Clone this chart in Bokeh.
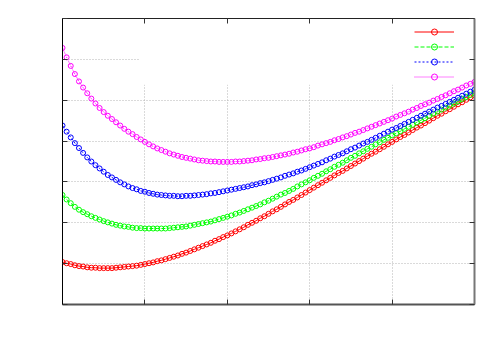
from bokeh.plotting import figure
from bokeh.models import (Range1d, LinearAxis, FixedTicker, CustomJSTickFormatter,
                          Legend, LegendItem, BoxAnnotation, Grid, ColumnDataSource)
from bokeh.core.properties import value
from bokeh.embed import file_html
from bokeh.resources import INLINE

x_values = [0.0, 0.05, 0.1, 0.15, 0.2, 0.25, 0.3, 0.35, 0.4, 0.45,
            0.5, 0.55, 0.6, 0.65, 0.7, 0.75, 0.8, 0.85, 0.9, 0.95,
            1.0, 1.05, 1.1, 1.15, 1.2, 1.25, 1.3, 1.35, 1.4, 1.45,
            1.5, 1.55, 1.6, 1.65, 1.7, 1.75, 1.8, 1.85, 1.9, 1.95,
            2.0, 2.05, 2.1, 2.15, 2.2, 2.25, 2.3, 2.35, 2.4, 2.45,
            2.5, 2.55, 2.6, 2.65, 2.7, 2.75, 2.8, 2.85, 2.9, 2.95,
            3.0, 3.05, 3.1, 3.15, 3.2, 3.25, 3.3, 3.35, 3.4, 3.45,
            3.5, 3.55, 3.6, 3.65, 3.7, 3.75, 3.8, 3.85, 3.9, 3.95,
            4.0, 4.05, 4.1, 4.15, 4.2, 4.25, 4.3, 4.35, 4.4, 4.45,
            4.5, 4.55, 4.6, 4.65, 4.7, 4.75, 4.8, 4.85, 4.9, 4.95, 5.0]

red_values = [1.04, 1.01, 0.99, 0.96, 0.94, 0.93, 0.91, 0.90, 0.90, 0.89,
              0.89, 0.89, 0.89, 0.90, 0.91, 0.92, 0.93, 0.94, 0.95, 0.97,
              0.99, 1.01, 1.03, 1.06, 1.08, 1.11, 1.14, 1.17, 1.20, 1.24,
              1.27, 1.31, 1.35, 1.39, 1.43, 1.47, 1.51, 1.56, 1.60, 1.65,
              1.69, 1.74, 1.79, 1.84, 1.89, 1.95, 2.00, 2.05, 2.11, 2.16,
              2.22, 2.28, 2.33, 2.39, 2.45, 2.51, 2.56, 2.62, 2.68, 2.74,
              2.80, 2.86, 2.92, 2.98, 3.04, 3.10, 3.16, 3.22, 3.27, 3.33,
              3.39, 3.45, 3.51, 3.57, 3.63, 3.69, 3.74, 3.80, 3.86, 3.92,
              3.98, 4.04, 4.10, 4.15, 4.21, 4.27, 4.33, 4.38, 4.44, 4.50,
              4.56, 4.62, 4.67, 4.73, 4.78, 4.84, 4.90, 4.95, 5.01, 5.07, 5.12]

green_values = [2.68, 2.57, 2.48, 2.39, 2.32, 2.26, 2.21, 2.16, 2.12, 2.08,
                2.04, 2.01, 1.98, 1.95, 1.93, 1.91, 1.90, 1.88, 1.87, 1.87,
                1.86, 1.86, 1.86, 1.86, 1.86, 1.86, 1.87, 1.88, 1.89, 1.90,
                1.91, 1.93, 1.95, 1.97, 1.99, 2.01, 2.03, 2.06, 2.09, 2.12,
                2.15, 2.18, 2.22, 2.25, 2.29, 2.33, 2.37, 2.41, 2.45, 2.50,
                2.54, 2.59, 2.64, 2.69, 2.73, 2.78, 2.83, 2.89, 2.94, 2.99,
                3.04, 3.10, 3.15, 3.20, 3.26, 3.31, 3.37, 3.42, 3.47, 3.53,
                3.59, 3.64, 3.70, 3.75, 3.81, 3.86, 3.92, 3.97, 4.03, 4.08,
                4.14, 4.19, 4.24, 4.30, 4.35, 4.40, 4.46, 4.51, 4.56, 4.62,
                4.67, 4.72, 4.77, 4.82, 4.87, 4.92, 4.97, 5.03, 5.08, 5.13, 5.18]

blue_values = [4.38, 4.23, 4.09, 3.95, 3.83, 3.71, 3.60, 3.50, 3.41, 3.33,
               3.25, 3.17, 3.11, 3.05, 2.99, 2.94, 2.89, 2.85, 2.82, 2.78,
               2.76, 2.73, 2.71, 2.69, 2.68, 2.67, 2.66, 2.66, 2.65, 2.65,
               2.66, 2.66, 2.67, 2.68, 2.69, 2.70, 2.72, 2.73, 2.75, 2.77,
               2.79, 2.81, 2.83, 2.85, 2.87, 2.89, 2.92, 2.94, 2.97, 2.99,
               3.02, 3.05, 3.08, 3.11, 3.15, 3.18, 3.21, 3.25, 3.28, 3.32,
               3.36, 3.40, 3.44, 3.48, 3.53, 3.57, 3.62, 3.66, 3.70, 3.75,
               3.80, 3.84, 3.89, 3.94, 3.98, 4.03, 4.08, 4.13, 4.18, 4.23,
               4.28, 4.32, 4.37, 4.42, 4.47, 4.52, 4.57, 4.62, 4.67, 4.72,
               4.77, 4.82, 4.86, 4.91, 4.96, 5.01, 5.06, 5.11, 5.16, 5.21, 5.26]

magenta_values = [6.28, 6.05, 5.84, 5.64, 5.46, 5.31, 5.17, 5.04, 4.92, 4.81,
                  4.71, 4.62, 4.54, 4.46, 4.38, 4.30, 4.23, 4.17, 4.10, 4.04,
                  3.98, 3.92, 3.87, 3.82, 3.78, 3.74, 3.70, 3.67, 3.64, 3.61,
                  3.59, 3.57, 3.55, 3.53, 3.52, 3.51, 3.50, 3.50, 3.49, 3.49,
                  3.49, 3.49, 3.50, 3.50, 3.51, 3.52, 3.53, 3.55, 3.56, 3.58,
                  3.59, 3.61, 3.63, 3.65, 3.67, 3.69, 3.72, 3.74, 3.77, 3.80,
                  3.82, 3.85, 3.89, 3.92, 3.95, 3.98, 4.02, 4.05, 4.09, 4.12,
                  4.16, 4.20, 4.23, 4.27, 4.31, 4.35, 4.39, 4.43, 4.47, 4.51,
                  4.55, 4.60, 4.64, 4.68, 4.72, 4.77, 4.81, 4.86, 4.90, 4.94,
                  4.99, 5.03, 5.08, 5.12, 5.17, 5.22, 5.26, 5.31, 5.36, 5.40, 5.45]

x_ticks = [0, 1, 2, 3, 4, 5]
y_ticks = [0, 1, 2, 3, 4, 5, 6, 7]

p = figure(width=500, height=350,
           x_range=Range1d(0, 5), y_range=Range1d(0, 7),
           x_axis_type=None, y_axis_type=None,
           output_backend="svg", toolbar_location=None,
           min_border_left=62, min_border_right=26,
           min_border_top=18, min_border_bottom=46)
p.outline_line_color = None
p.background_fill_color = "white"
p.border_fill_color = "white"

# dotted grid
p.add_layout(Grid(dimension=0, ticker=FixedTicker(ticks=x_ticks[1:-1]),
                  grid_line_color="#b4b4b4", grid_line_dash="1 2"))
p.add_layout(Grid(dimension=1, ticker=FixedTicker(ticks=y_ticks[1:-1]),
                  grid_line_color="#b4b4b4", grid_line_dash="1 2"))

# key area clears the grid behind it
p.add_layout(BoxAnnotation(left=0.935, bottom=5.38, fill_color="white",
                           fill_alpha=1.0, line_color=None, level="underlay"))


def make_axis(ticks, color, width):
    return LinearAxis(ticker=FixedTicker(ticks=ticks),
                      formatter=CustomJSTickFormatter(code="return ''"),
                      major_tick_in=5, major_tick_out=0,
                      major_tick_line_color="#333333",
                      minor_tick_line_color=None,
                      major_label_standoff=0,
                      major_label_text_font_size="1px",
                      axis_line_color=color, axis_line_width=width)


p.add_layout(make_axis(y_ticks, "black", 1), "left")
p.add_layout(make_axis(y_ticks, "#777777", 2), "right")
p.add_layout(make_axis(x_ticks, "#555555", 2), "below")
p.add_layout(make_axis(x_ticks, "#222222", 1), "above")

src = ColumnDataSource(dict(x=x_values, r=red_values, g=green_values,
                            b=blue_values, m=magenta_values))

series = [("r", "#ff0000", "solid"),
          ("g", "#00ff00", "4 2"),
          ("b", "#0000ff", "2 2"),
          ("m", "#ff00ff", "1 1")]

items = []
for col, color, dash in series:
    lr = p.line("x", col, source=src, line_color=color, line_width=1,
                line_dash=dash)
    sr = p.scatter("x", col, source=src, marker="circle", size=5,
                   line_color=color, fill_color=None, line_width=1)
    items.append(LegendItem(label=value(""), renderers=[lr, sr]))

legend = Legend(items=items, location="top_right", margin=6, padding=5,
                spacing=0, glyph_width=40, glyph_height=15,
                label_width=14, label_height=15, label_standoff=0,
                label_text_font_size="8px",
                background_fill_alpha=0, border_line_color=None)
p.add_layout(legend)

open("out.html", "w").write(file_html(p, INLINE))
